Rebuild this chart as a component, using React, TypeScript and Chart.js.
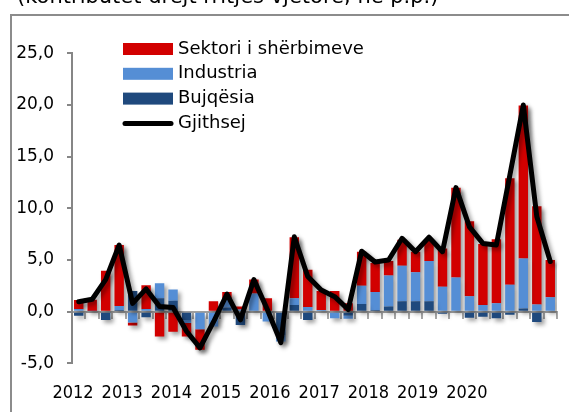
import React, { useEffect, useRef } from 'react';
import { Chart, registerables } from 'chart.js';

Chart.register(...registerables);

// ---- DATA ----
const quarters = [
  'T1-2012', 'T2-2012', 'T3-2012', 'T4-2012',
  'T1-2013', 'T2-2013', 'T3-2013', 'T4-2013',
  'T1-2014', 'T2-2014', 'T3-2014', 'T4-2014',
  'T1-2015', 'T2-2015', 'T3-2015', 'T4-2015',
  'T1-2016', 'T2-2016', 'T3-2016', 'T4-2016',
  'T1-2017', 'T2-2017', 'T3-2017', 'T4-2017',
  'T1-2018', 'T2-2018', 'T3-2018', 'T4-2018',
  'T1-2019', 'T2-2019', 'T3-2019', 'T4-2019',
  'T1-2020', 'T2-2020', 'T3-2020', 'T4-2020',
];

const yearLabels = ['2012', '2013', '2014', '2015', '2016', '2017', '2018', '2019', '2020'];

const sherbimet = [0.87, 1.1, 3.95, 5.9, -0.3, 2.3, -2.4, -1.95, -1.3, -2.0, 1.0, 0.6, 0.3, 1.35, 1.3, 0.0, 5.9, 3.6, 1.85, 2.0, 0.8, 3.3, 2.8, 1.4, 2.5, 2.0, 2.1, 3.7, 8.7, 7.25, 5.9, 6.2, 10.3, 14.8, 9.5, 3.6];
const industria = [0.25, 0.05, 0.0, 0.4, -1.05, 0.25, 1.45, 1.1, -0.3, -1.6, -1.45, 0.9, 0.2, 1.75, -0.85, -0.6, 0.65, 0.45, 0.15, -0.55, -0.3, 1.75, 1.75, 3.0, 3.45, 2.8, 3.9, 2.4, 3.3, 1.5, 0.65, 0.8, 2.6, 4.85, 0.7, 1.4];
const bujqesia = [-0.4, 0.0, -0.8, 0.15, 2.0, -0.55, 1.3, 1.05, -0.8, -0.1, 0.0, 0.4, -1.3, 0.0, -0.1, -2.3, 0.65, -0.8, 0.0, -0.1, -0.4, 0.75, 0.15, 0.5, 1.0, 1.0, 1.0, -0.2, 0.0, -0.6, -0.5, -0.65, -0.3, 0.3, -1.0, -0.1];
const gjithsej = [0.95, 1.2, 3.1, 6.45, 0.8, 2.2, 0.5, 0.4, -1.9, -3.5, -1.0, 1.7, -0.8, 3.1, 0.2, -3.0, 7.25, 3.4, 2.1, 1.45, 0.2, 5.85, 4.8, 5.0, 7.1, 5.8, 7.2, 5.8, 12.0, 8.2, 6.6, 6.45, 13.2, 20.0, 9.2, 4.85];

const titleText = '(kontributet drejt rritjes vjetore, në p.p.)';

// ---- STYLE ----
const FONT = "'DejaVu Sans', Verdana, sans-serif";
const FONT_C = "'DejaVu Sans Condensed', 'DejaVu Sans', sans-serif";
const RED = '#d20000';
const LIGHT = '#558ed5';
const DARK = '#1f497d';
const OFFSET = 24; // canvas is shifted up so the title is cut like the reference

const shadowPlugin = {
  id: 'shadowPlugin',
  beforeDatasetDraw(chart: any) {
    const ctx = chart.ctx;
    ctx.save();
    ctx.shadowColor = 'rgba(0,0,0,0.38)';
    ctx.shadowBlur = 4;
    ctx.shadowOffsetX = 3;
    ctx.shadowOffsetY = 3;
  },
  afterDatasetDraw(chart: any) {
    chart.ctx.restore();
  },
};

const framePlugin = {
  id: 'framePlugin',
  beforeDraw(chart: any) {
    const ctx = chart.ctx;
    ctx.save();
    ctx.strokeStyle = '#8c8c8c';
    ctx.lineWidth = 2;
    ctx.strokeRect(11, 15 + OFFSET, 900, 900);
    ctx.restore();
  },
};

const legendOrder = [2, 1, 0, 3];

const legendPlugin = {
  id: 'customLegend',
  afterDraw(chart: any) {
    const ctx = chart.ctx;
    const x0 = 123;
    const y0 = 49 + OFFSET;
    const rowH = 24.8;
    ctx.save();
    legendOrder.forEach((di, k) => {
      const ds = chart.data.datasets[di];
      const cy = y0 + k * rowH;
      if (ds.type === 'line') {
        ctx.strokeStyle = ds.borderColor;
        ctx.lineWidth = 5;
        ctx.lineCap = 'round';
        ctx.beginPath();
        ctx.moveTo(x0 + 2, cy);
        ctx.lineTo(x0 + 48, cy);
        ctx.stroke();
      } else {
        ctx.fillStyle = ds.backgroundColor;
        ctx.fillRect(x0, cy - 6, 50, 12);
      }
      ctx.fillStyle = '#000';
      ctx.font = `18px ${FONT}`;
      ctx.textAlign = 'left';
      ctx.textBaseline = 'middle';
      ctx.fillText(ds.label, x0 + 55, cy);
    });
    ctx.restore();
  },
};

export default function App() {
  const ref = useRef<HTMLCanvasElement>(null);

  useEffect(() => {
    if (!ref.current) return;
    const chart = new Chart(ref.current, {
      type: 'bar',
      data: {
        labels: quarters,
        datasets: [
          {
            type: 'bar',
            label: 'Bujqësia',
            data: bujqesia,
            backgroundColor: DARK,
            borderWidth: 0,
            barPercentage: 0.7,
            categoryPercentage: 1,
          },
          {
            type: 'bar',
            label: 'Industria',
            data: industria,
            backgroundColor: LIGHT,
            borderWidth: 0,
            barPercentage: 0.7,
            categoryPercentage: 1,
          },
          {
            type: 'bar',
            label: 'Sektori i shërbimeve',
            data: sherbimet,
            backgroundColor: RED,
            borderWidth: 0,
            barPercentage: 0.7,
            categoryPercentage: 1,
          },
          {
            type: 'line',
            label: 'Gjithsej',
            data: gjithsej,
            borderColor: '#000000',
            backgroundColor: '#000000',
            borderWidth: 5,
            pointRadius: 0,
            borderCapStyle: 'round',
            borderJoinStyle: 'round',
            tension: 0,
            stack: 'total',
            order: -1,
          } as any,
        ],
      },
      options: {
        responsive: false,
        animation: false,
        devicePixelRatio: 1,
        layout: { padding: { left: 17, right: 12, top: 0, bottom: 0 } },
        plugins: {
          legend: { display: false },
          tooltip: { enabled: false },
          title: {
            display: true,
            text: titleText,
            align: 'start',
            color: '#000',
            font: { family: FONT, size: 21, weight: 'normal', lineHeight: 1.2 },
            padding: { top: 8.8, bottom: 43.3 },
          },
        },
        scales: {
          x: {
            type: 'category',
            position: { y: 0 } as any,
            stacked: true,
            offset: true,
            grid: {
              display: true,
              drawOnChartArea: false,
              drawTicks: true,
              tickLength: 6,
              color: '#a6a6a6',
              lineWidth: 2,
              offset: true,
            },
            border: { display: true, color: '#a0a0a0', width: 2 },
            ticks: { display: false },
            afterFit: (s: any) => {
              s.height = 0;
            },
          } as any,
          xYears: {
            type: 'linear',
            position: 'bottom',
            offset: false,
            bounds: 'data',
            min: 2011.98,
            max: 2021.83,
            grid: { display: false, drawTicks: false, offset: false },
            border: { display: false },
            ticks: {
              autoSkip: false,
              maxRotation: 0,
              padding: 19,
              color: '#000',
              font: { family: FONT_C, size: 18 },
              callback: (_v: any, i: number) => yearLabels[i],
            },
            afterBuildTicks: (s: any) => {
              s.ticks = yearLabels.map((y) => ({ value: Number(y) }));
            },
            afterFit: (s: any) => {
              s.height = 48.7;
            },
          } as any,
          y: {
            stacked: true,
            min: -5,
            max: 25,
            ticks: {
              stepSize: 5,
              padding: 13,
              color: '#000',
              font: { family: FONT, size: 17 },
              callback: (v: any) => Number(v).toFixed(1).replace('.', ','),
            },
            grid: {
              drawOnChartArea: false,
              drawTicks: true,
              tickLength: 5,
              color: '#868686',
              lineWidth: 2,
            },
            border: { display: true, color: '#868686', width: 2 },
            afterFit: (s: any) => {
              s.width = 55;
            },
          } as any,
        },
      },
      plugins: [framePlugin, shadowPlugin, legendPlugin],
    } as any);
    return () => chart.destroy();
  }, []);

  return (
    <div style={{ position: 'absolute', left: 0, top: -OFFSET, width: 569, height: 412 + OFFSET }}>
      <canvas
        ref={ref}
        width={569}
        height={412 + OFFSET}
        style={{ width: 569, height: 412 + OFFSET, display: 'block' }}
      />
    </div>
  );
}
